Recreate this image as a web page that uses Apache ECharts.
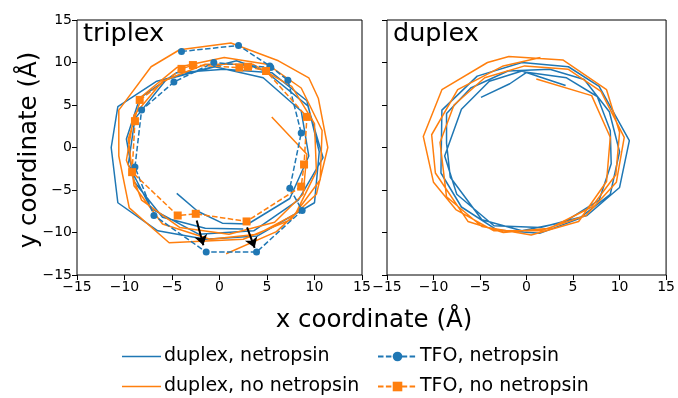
<!DOCTYPE html>
<html>
<head>
<meta charset="utf-8">
<script src="https://cdn.jsdelivr.net/npm/echarts@6/dist/echarts.min.js"></script>
<style>
  html, body { margin: 0; padding: 0; background: #fff; }
  #chart { width: 678px; height: 398px; }
</style>
</head>
<body>
<div id="chart"></div>
<script>
// axis ticks
const tickValues = [-15, -10, -5, 0, 5, 10, 15]

// triplex panel: duplex backbone traces
const triplexDuplexNetropsin = [
  [-4.5, -5.4], [-2.3, -7.5], [0.3, -8.9], [3.0, -9.0], [7.4, -6.0], [9.4, -1.0], [8.6, 4.3],
  [4.6, 8.2], [-0.5, 9.5], [-5.6, 8.0], [-8.9, 3.4], [-9.6, -2.0], [-7.2, -7.2], [-2.2, -10.2],
  [3.6, -9.8], [8.3, -6.2], [10.9, -1.2], [9.3, 4.9], [4.8, 9.0], [1.8, 10.2], [-6.6, 7.8],
  [-10.7, 4.8], [-11.4, 0.0], [-10.7, -6.5], [-6.5, -9.8], [-1.5, -10.8], [4.0, -10.4],
  [10.0, -6.5], [10.5, -0.5], [9.2, 5.5], [5.5, 8.8], [0.5, 9.2], [-4.5, 8.8], [-8.4, 5.8],
  [-9.8, 1.0], [-9.0, -4.0], [-6.0, -8.2], [-1.5, -9.5], [2.5, -9.6]
]
const triplexDuplexNoNetropsin = [
  [5.5, 3.6], [9.2, -0.8], [8.8, -5.5], [5.8, -8.8], [1.0, -10.2], [-4.2, -9.4], [-8.2, -6.2],
  [-9.8, -1.5], [-9.0, 3.8], [-6.0, 7.8], [-1.5, 9.8], [3.5, 9.8], [7.6, 7.2], [10.0, 2.8],
  [10.2, -2.8], [8.0, -7.8], [4.0, -10.2], [-1.0, -10.8], [-6.0, -9.0], [-9.0, -4.5],
  [-9.6, 1.0], [-8.2, 6.0], [-4.5, 9.4], [0.5, 10.6], [5.0, 9.8], [8.6, 7.0], [10.8, 2.0],
  [10.6, -3.8], [7.5, -8.5], [2.5, -10.8], [-5.3, -11.2], [-9.5, -7.1], [-10.6, -1.0],
  [-10.6, 4.4], [-7.2, 9.5], [-4.2, 11.5], [1.2, 12.3], [6.2, 10.2], [9.4, 8.2], [10.4, 5.8],
  [11.4, 0.0], [10.2, -5.5], [6.0, -9.9], [0.7, -12.5]
]

// triplex panel: third strand (TFO)
const tfoNetropsin = [
  [-4.0, 11.3], [2.0, 12.0], [5.3, 9.6], [7.2, 7.9], [8.6, 1.7], [7.4, -4.8], [8.7, -7.4],
  [3.9, -12.3], [-1.4, -12.3], [-6.9, -8.0], [-8.9, -2.3], [-8.2, 4.4], [-4.8, 7.7],
  [-0.6, 10.0], [5.4, 9.4]
]
const tfoNoNetropsin = [
  [-8.4, 5.6], [-4.0, 9.25], [-2.8, 9.7], [2.1, 9.4], [3.0, 9.5], [4.9, 9.0], [9.2, 3.6],
  [8.9, -2.0], [8.6, -4.6], [2.85, -8.7], [-2.5, -7.8], [-4.4, -8.0], [-9.2, -2.9], [-8.9, 3.1]
]

// shift arrows
const arrowStarts = [[-2.4, -8.6], [2.9, -9.4]]
const arrowEnds = [[-1.7, -11.5], [3.7, -11.8]]

// duplex panel
const duplexNetropsin = [
  [-4.9, 5.9], [-1.8, 7.5], [0.0, 8.85], [4.3, 8.2], [7.6, 6.0], [9.0, 2.0], [9.1, -1.9],
  [7.8, -6.2], [4.0, -8.8], [-0.5, -9.8], [-4.8, -8.5], [-8.2, -3.5], [-8.6, 0.5], [-8.6, 4.0],
  [-6.0, 7.0], [-2.0, 9.0], [2.5, 9.2], [6.2, 8.0], [8.9, 4.2], [10.0, -0.5], [9.0, -5.5],
  [5.6, -8.4], [1.4, -10.1], [-3.2, -9.7], [-7.0, -7.0], [-9.2, -3.0], [-9.1, 4.4], [-5.3, 8.4],
  [-0.5, 10.0], [4.5, 9.5], [7.8, 7.2], [11.05, 0.8], [10.0, -4.7], [6.5, -8.0], [1.5, -9.4],
  [-3.5, -9.2], [-7.5, -5.5], [-8.8, -1.0], [-7.0, 4.5], [-4.0, 7.8], [-0.5, 9.0], [4.2, 7.3]
]
const duplexNoNetropsin = [
  [1.05, 8.06], [7.0, 6.1], [9.0, 1.2], [8.6, -4.0], [5.6, -8.7], [0.5, -10.3], [-4.8, -9.3],
  [-8.6, -5.8], [-9.3, 0.6], [-7.8, 5.0], [-4.5, 8.2], [-0.2, 9.6], [4.5, 9.2], [8.0, 6.6],
  [10.5, 1.2], [9.65, -4.1], [6.4, -8.0], [1.5, -9.8], [-3.5, -9.8], [-7.6, -7.3], [-10.0, -4.1],
  [-11.1, 1.3], [-9.1, 6.8], [-4.2, 10.0], [-1.9, 10.7], [3.9, 10.3], [8.6, 6.8], [10.0, 1.8],
  [9.6, -3.2], [7.0, -7.0], [2.5, -9.5], [-2.5, -10.0], [-6.3, -8.7], [-9.8, -3.0], [-10.2, 1.5],
  [-7.4, 6.8], [-2.5, 9.6], [1.5, 10.6]
]

const BLUE = '#1f77b4'
const ORANGE = '#ff7f0e'
const FONT = 'DejaVu Sans'
const minus = (v) => String(v).replace('-', '\u2212')

const getXAxis = (gridIndex) => ({
  type: 'value',
  gridIndex,
  position: 'bottom',
  min: -15,
  max: 15,
  interval: 5,
  axisLine: { show: false, onZero: false },
  axisTick: { show: true, inside: false, length: 5, lineStyle: { color: '#000' } },
  axisLabel: { show: true, fontSize: 14, color: '#000', fontFamily: FONT, margin: 5, formatter: minus },
  splitLine: { show: false }
})
const getYAxis = (gridIndex, showLabel) => ({
  type: 'value',
  gridIndex,
  position: 'left',
  min: -15,
  max: 15,
  interval: 5,
  axisLine: { show: false, onZero: false },
  axisTick: { show: true, inside: false, length: 5, lineStyle: { color: '#000' } },
  axisLabel: { show: showLabel, fontSize: 14, color: '#000', fontFamily: FONT, margin: 5, formatter: minus },
  splitLine: { show: false }
})

// one legend block per entry, so the 2x2 layout is fixed
const getLegend = (name, left, top, solidLine) => ({
  data: [solidLine ? { name, icon: 'rect' } : name],
  left,
  top,
  itemWidth: 39,
  itemHeight: solidLine ? 1.6 : 12,
  selectedMode: false,
  textStyle: { fontSize: 19, color: '#000', fontFamily: FONT, padding: [0, 0, 0, -2] }
})

const solid = (name, data, color, idx) => ({
  name,
  type: 'line',
  xAxisIndex: idx,
  yAxisIndex: idx,
  data,
  showSymbol: false,
  symbol: 'none',
  lineStyle: { color, width: 1.5 },
  itemStyle: { color }
})
const dashed = (name, data, color, symbol, size) => ({
  name,
  type: 'line',
  xAxisIndex: 0,
  yAxisIndex: 0,
  data,
  symbol,
  symbolSize: size,
  showSymbol: true,
  lineStyle: { color, width: 1.5, type: [5.5, 2.4] },
  itemStyle: { color, borderWidth: 0 }
})

const chart = echarts.init(document.getElementById('chart'), null, { renderer: 'canvas' })
chart.setOption({
  animation: false,
  backgroundColor: '#fff',
  textStyle: { fontFamily: FONT },
  grid: [
    { left: 77, top: 20, width: 285, height: 255, show: true, borderColor: '#000', borderWidth: 1 },
    { left: 387, top: 20, width: 285, height: 255, show: true, borderColor: '#000', borderWidth: 1 }
  ],
  xAxis: [getXAxis(0), getXAxis(1)],
  yAxis: [getYAxis(0, true), getYAxis(1, false)],
  title: [
    { text: 'triplex', left: 78, top: 16, textStyle: { fontSize: 25.5, fontWeight: 'normal', color: '#000', fontFamily: FONT } },
    { text: 'duplex', left: 388, top: 16, textStyle: { fontSize: 25.5, fontWeight: 'normal', color: '#000', fontFamily: FONT } }
  ],
  legend: [
    getLegend('duplex, netropsin', 117, 342, true),
    getLegend('duplex, no netropsin', 117, 372, true),
    getLegend('TFO, netropsin', 372, 342, false),
    getLegend('TFO, no netropsin', 372, 372, false)
  ],
  graphic: [
    { type: 'text', x: 374, y: 321, style: { text: 'x coordinate (\u00c5)', fontSize: 24.5, fontFamily: FONT, fill: '#000', textAlign: 'center', textVerticalAlign: 'middle' } },
    { type: 'text', x: 30, y: 150, rotation: Math.PI / 2, style: { text: 'y coordinate (\u00c5)', fontSize: 24.5, fontFamily: FONT, fill: '#000', textAlign: 'center', textVerticalAlign: 'middle' } }
  ],
  series: [
    solid('duplex, netropsin', triplexDuplexNetropsin, BLUE, 0),
    solid('duplex, no netropsin', triplexDuplexNoNetropsin, ORANGE, 0),
    solid('duplex, netropsin', duplexNetropsin, BLUE, 1),
    solid('duplex, no netropsin', duplexNoNetropsin, ORANGE, 1),
    dashed('TFO, netropsin', tfoNetropsin, BLUE, 'circle', 7),
    dashed('TFO, no netropsin', tfoNoNetropsin, ORANGE, 'rect', 8),
    {
      type: 'lines',
      coordinateSystem: 'cartesian2d',
      xAxisIndex: 0,
      yAxisIndex: 0,
      symbol: ['none', 'arrow'],
      symbolSize: 10,
      lineStyle: { color: '#000', width: 2, opacity: 1 },
      data: arrowStarts.map((s, i) => ({ coords: [s, arrowEnds[i]] })),
      z: 10
    }
  ]
})
</script>
</body>
</html>
